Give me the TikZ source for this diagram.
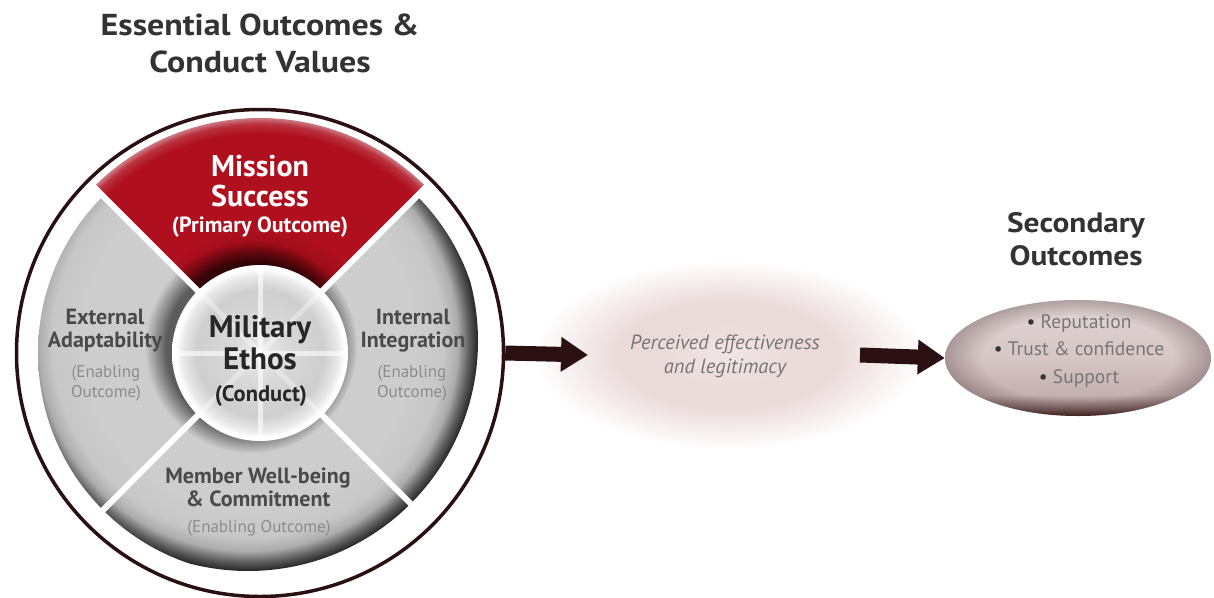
\documentclass[tikz,border=0pt]{standalone}
\usepackage{fontspec}
\setmainfont{PT Sans}
\newfontfamily\headfont[FakeStretch=1.12]{PT Sans}
\usetikzlibrary{arrows.meta,shapes.geometric,calc,fadings}

\definecolor{ringc}{HTML}{2B1012}
\definecolor{titlec}{HTML}{333333}
\definecolor{segtext}{HTML}{4A4A4A}
\definecolor{subtext}{HTML}{8C8C8C}
\definecolor{ethostext}{HTML}{262626}
\definecolor{softtext}{HTML}{767676}
\definecolor{glowc}{HTML}{EBDADA}

% gray sectors: light body, dark rim
\definecolor{gA}{HTML}{CDCDCD}
\definecolor{gB}{HTML}{C7C7C7}
\definecolor{gC}{HTML}{ADADAD}
\definecolor{gD}{HTML}{5E5E5E}
\definecolor{gE}{HTML}{262626}
\pgfdeclareradialshading{grayseg}{\pgfpoint{0bp}{0bp}}{%
  color(0bp)=(gA); color(18bp)=(gA); color(21.3bp)=(gB); color(22.8bp)=(gC);
  color(24bp)=(gD); color(25bp)=(gE); color(50bp)=(gE)}
% red top sector
\definecolor{rB}{HTML}{6E0810}
\definecolor{rC}{HTML}{A00D1A}
\definecolor{rD}{HTML}{B0101E}
\definecolor{rE}{HTML}{B9323E}
\definecolor{rF}{HTML}{CC7A82}
\pgfdeclareradialshading{redseg}{\pgfpoint{0bp}{0bp}}{%
  color(0bp)=(rB); color(9.6bp)=(rB); color(11.5bp)=(rC);
  color(13.5bp)=(rD); color(23.4bp)=(rD); color(24.4bp)=(rE); color(25bp)=(rF);
  color(50bp)=(rF)}
% central hub
\pgfdeclareradialshading{hubshade}{\pgfpoint{0bp}{0bp}}{%
  color(0bp)=(black!7); color(8bp)=(black!15); color(18bp)=(black!19);
  color(22bp)=(black!9); color(24bp)=(white); color(25bp)=(white); color(50bp)=(white)}
% halo around the middle caption
\pgfdeclareradialshading{glowshade}{\pgfpoint{0bp}{0bp}}{%
  color(0bp)=(glowc!70!white); color(9bp)=(glowc); color(14bp)=(glowc);
  color(25bp)=(white); color(50bp)=(white)}
% secondary outcomes oval
\definecolor{ovA}{HTML}{3C2222}
\definecolor{ovB}{HTML}{7A5E5E}
\definecolor{ovC}{HTML}{C4B0B0}
\definecolor{ovD}{HTML}{D6C6C6}
\definecolor{ovE}{HTML}{E2D6D6}
\pgfdeclareverticalshading{ovalshade}{100bp}{%
  color(0bp)=(ovA); color(25bp)=(ovA); color(28bp)=(ovB); color(34bp)=(ovC);
  color(50bp)=(ovD); color(75bp)=(ovE); color(100bp)=(ovE)}
% darkening towards the rim of the oval
\pgfdeclareradialshading{rimshade}{\pgfpoint{0bp}{0bp}}{%
  color(0bp)=(pgftransparent!100); color(18bp)=(pgftransparent!100);
  color(25bp)=(pgftransparent!0); color(50bp)=(pgftransparent!0)}
\pgfdeclarefading{rimfade}{\pgfuseshading{rimshade}}

\tikzset{
  bigtitle/.style={text=titlec, align=center, font=\headfont\bfseries\fontsize{30.3}{37}\selectfont},
  segtitle/.style={text=segtext, align=center, font=\bfseries\fontsize{22}{23}\selectfont},
  segsub/.style={text=subtext, align=center, font=\fontsize{17}{20}\selectfont},
  fatarrow/.style={draw=ringc, line width=15, -{Triangle[length=27, width=33]}},
  gap/.style={white, line width=6},
}

\begin{document}
\begin{tikzpicture}[x=1pt, y=-1pt]
\useasboundingbox (0,0) rectangle (1214,597);
\coordinate (c) at (260,353);

% ---- wheel ----
\begin{scope}
  \clip (c) circle (222);
  \shade[shading=grayseg] ($(c)+(-12,-12)$) circle (230);
\end{scope}
\begin{scope}
  \clip (c) -- ++(225:240) arc[start angle=225, end angle=315, radius=240] -- cycle;
  \shade[shading=redseg] (c) circle (235);
\end{scope}
% soft shadow cast by the hub
\fill[black, opacity=0.55, path fading=circle with fuzzy edge 20 percent]
  ($(c)+(-9,-6)$) circle (106);
% white gaps between the sectors
\foreach \a in {45,135,225,315}
  \draw[gap] (c) -- ++(\a:240);
% hub
\shade[shading=hubshade] (c) circle (88);
\begin{scope}
  \clip (c) circle (86);
  \draw[white, line width=5, opacity=0.6] ($(c)+(-88,0)$) -- ($(c)+(88,0)$);
  \draw[white, line width=5, opacity=0.6] ($(c)+(0,-88)$) -- ($(c)+(0,88)$);
  \foreach \a in {45,135} {
    \draw[white, line width=5, opacity=0.35] (c) ++(\a:88) -- ++(\a+180:176);
  }
\end{scope}
\draw[white, line width=3, opacity=0.85] (c) circle (86);

% outer ring
\node[circle, draw=ringc, line width=3.5, minimum size=487, inner sep=0] (ring) at (c) {};

% ---- wheel labels ----
\node[text=white, align=center, font=\bfseries\fontsize{30}{30}\selectfont] (mission) at (260,181) {Mission\\Success};
\node[text=white, font=\bfseries\fontsize{22}{22}\selectfont] (primary) at (260,227) {(Primary Outcome)};
\node[text=ethostext, align=center, font=\bfseries\fontsize{31}{32}\selectfont] (ethos) at (260,343) {Military\\Ethos};
\node[text=ethostext, font=\bfseries\fontsize{22.5}{24}\selectfont] (conduct) at (261,396) {(Conduct)};
\node[segtitle] (external) at (105,331) {External\\Adaptability};
\node[segsub] (extsub) at (106,383) {(Enabling\\Outcome)};
\node[segtitle] (internal) at (413,331) {Internal\\Integration};
\node[segsub] (intsub) at (412,383) {(Enabling\\Outcome)};
\node[segtitle] (member) at (258,487) {Member Well-being\\\& Commitment};
\node[segsub] (memsub) at (259,528) {(Enabling Outcome)};

% ---- titles ----
\node[bigtitle] (title) at (260,43) {Essential Outcomes \&\\Conduct Values};
\node[bigtitle, font=\headfont\bfseries\fontsize{28}{33}\selectfont] (sectitle) at (1076,239) {Secondary\\Outcomes};

% ---- middle caption ----
\node[ellipse, minimum width=390, minimum height=190, shading=glowshade, shade] (glow) at (728,355) {};
\node[text=softtext, align=center, font=\itshape\fontsize{20.5}{24}\selectfont] (perceived) at (725,356)
  {Perceived effectiveness\\and legitimacy};

% ---- secondary outcomes ----
\node[ellipse, minimum width=266, minimum height=116, inner sep=0, shading=ovalshade, shade] (oval) at (1078,358) {};
\fill[ovA, opacity=0.3, path fading=rimfade] (oval.center) ellipse (133 and 58);
\node[text=softtext, align=center, font=\fontsize{19.5}{27.5}\selectfont] (list) at (1079,351)
  {\textcolor{black!80}{•} Reputation\\\textcolor{black!80}{•} Trust \& confidence\\\textcolor{black!80}{•} Support};

% ---- connectors ----
\coordinate (a1end) at (588,355);
\coordinate (a2start) at (860,355);
\draw[fatarrow] (ring.east) -- (a1end);
\draw[fatarrow] (a2start) -- (oval.west);
\end{tikzpicture}
\end{document}
